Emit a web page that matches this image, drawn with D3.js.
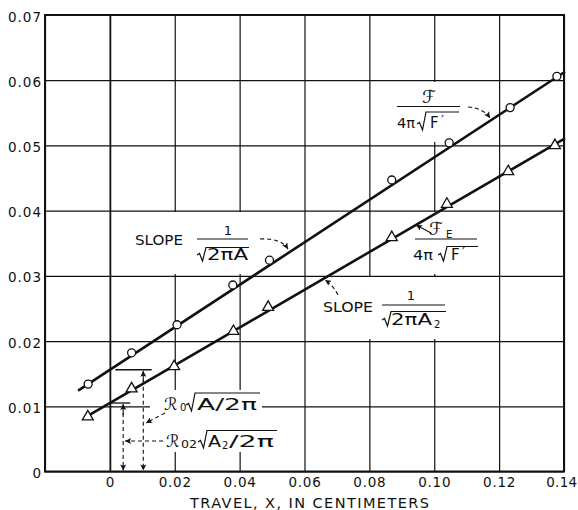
<!DOCTYPE html>
<html><head><meta charset="utf-8">
<script src="https://cdn.jsdelivr.net/npm/d3@7"></script>
<style>body{margin:0;background:#fff}svg{display:block}</style>
</head><body><svg id="c" width="578" height="510"></svg>
<script>
// ---------- data ----------
const xTicks = [-0.02, 0, 0.02, 0.04, 0.06, 0.08, 0.10, 0.12, 0.14];
const xTickLabels = ["", "0", "0.02", "0.04", "0.06", "0.08", "0.10", "0.12", "0.14"];
const yTicks = [0, 0.01, 0.02, 0.03, 0.04, 0.05, 0.06, 0.07];
const yTickLabels = ["0", "0.01", "0.02", "0.03", "0.04", "0.05", "0.06", "0.07"];
const circleX = [-0.0067, 0.0067, 0.0207, 0.0379, 0.0492, 0.0869, 0.1046, 0.1234, 0.1378];
const circleY = [0.0134, 0.0182, 0.0225, 0.0286, 0.0324, 0.0447, 0.0504, 0.0558, 0.0606];
const triangleX = [-0.0068, 0.0067, 0.0198, 0.0381, 0.0488, 0.0869, 0.1039, 0.1228, 0.1372];
const triangleY = [0.0084, 0.0127, 0.0161, 0.0215, 0.0252, 0.0359, 0.0410, 0.0460, 0.0500];
const fitFX = [-0.0098, 0.1403];
const fitFY = [0.0124, 0.0613];
const fitEX = [-0.0076, 0.1403];
const fitEY = [0.0083, 0.0511];
const interceptX = [0.0041, 0.0103];
const interceptY = [0.0105, 0.0156];
const xTitle = "TRAVEL, X, IN CENTIMETERS";

// ---------- setup ----------
const svg = d3.select("#c");
const FONT = "'DejaVu Sans', sans-serif";
const INK = "#111";
const x = d3.scaleLinear().domain([-0.02, 0.14]).range([45, 564]);
const y = d3.scaleLinear().domain([0, 0.07]).range([471.5, 15]);
const W = x(0.14) - x(-0.02), H = y(0) - y(0.07);

const defs = svg.append("defs");
defs.append("marker").attr("id", "ah").attr("viewBox", "0 0 10 10")
  .attr("refX", 10).attr("refY", 5).attr("markerWidth", 8).attr("markerHeight", 6)
  .attr("markerUnits", "userSpaceOnUse").attr("orient", "auto-start-reverse")
  .append("path").attr("d", "M0,0 L10,5 L0,10 L2,5 z").attr("fill", INK);

// ---------- grid / axes ----------
const gx = svg.append("g").attr("transform", `translate(0,${y(0)})`)
  .call(d3.axisBottom(x).tickValues(xTicks).tickFormat((d, i) => xTickLabels[i]).tickSize(-H).tickPadding(6));
gx.select(".domain").remove();
gx.selectAll(".tick line").attr("stroke", INK).attr("stroke-width", d => d === 0 ? 1.8 : 1.2);
gx.selectAll(".tick text").attr("font-family", FONT).attr("font-size", 13.5)
  .attr("letter-spacing", 0.8).attr("fill", INK)
  .filter(d => d === 0.14).attr("text-anchor", "end").attr("x", 13).attr("letter-spacing", 0.3);

const gy = svg.append("g").attr("transform", `translate(${x(-0.02)},0)`)
  .call(d3.axisLeft(y).tickValues(yTicks).tickFormat((d, i) => yTickLabels[i]).tickSize(-W).tickPadding(3));
gy.select(".domain").remove();
gy.selectAll(".tick line").attr("stroke", INK).attr("stroke-width", 1.2);
gy.selectAll(".tick text").attr("font-family", FONT).attr("font-size", 13.5)
  .attr("letter-spacing", 1).attr("dy", "0.45em").attr("fill", INK);

// white label backgrounds (grid is interrupted behind labels)
const boxes = [[112, 212, 148, 62], [385, 82, 92, 60], [395, 212, 95, 62], [310, 277, 156, 62],
               [150, 390, 112, 30], [157, 420, 125, 32]];
svg.append("g").selectAll("rect").data(boxes).join("rect")
  .attr("x", d => d[0]).attr("y", d => d[1]).attr("width", d => d[2]).attr("height", d => d[3])
  .attr("fill", "#fff");

// frame
svg.append("rect").attr("x", x(-0.02)).attr("y", y(0.07)).attr("width", W).attr("height", H)
  .attr("fill", "none").attr("stroke", INK).attr("stroke-width", 2);

// x title
svg.append("text").attr("x", 190).attr("y", 508).attr("font-family", FONT).attr("font-size", 14.5)
  .attr("textLength", 239).attr("lengthAdjust", "spacing").attr("fill", INK).text(xTitle);

// ---------- data ----------
const line = d3.line().x(d => x(d[0])).y(d => y(d[1]));
svg.append("path").datum(fitFX.map((v, i) => [v, fitFY[i]])).attr("d", line)
  .attr("stroke", INK).attr("stroke-width", 2.6).attr("fill", "none");
svg.append("path").datum(fitEX.map((v, i) => [v, fitEY[i]])).attr("d", line)
  .attr("stroke", INK).attr("stroke-width", 2.6).attr("fill", "none");

svg.append("g").selectAll("circle").data(circleX.map((v, i) => [v, circleY[i]])).join("circle")
  .attr("cx", d => x(d[0])).attr("cy", d => y(d[1])).attr("r", 4)
  .attr("fill", "#fff").attr("stroke", INK).attr("stroke-width", 1.3);
svg.append("g").selectAll("path").data(triangleX.map((v, i) => [v, triangleY[i]])).join("path")
  .attr("transform", d => `translate(${x(d[0])},${y(d[1])})`)
  .attr("d", d3.symbol(d3.symbolTriangle, 52))
  .attr("fill", "#fff").attr("stroke", INK).attr("stroke-width", 1.3);

// ---------- annotations ----------
const g = svg.append("g").attr("font-family", FONT).attr("fill", INK);
function t(str, px, py, size, len, anchor) {
  const s = g.append("text").attr("x", px).attr("y", py).attr("font-size", size).text(str);
  if (len) s.attr("textLength", len).attr("lengthAdjust", "spacingAndGlyphs");
  if (anchor) s.attr("text-anchor", anchor);
  return s;
}
function hline(x1, x2, py, w) {
  g.append("line").attr("x1", x1).attr("x2", x2).attr("y1", py).attr("y2", py)
    .attr("stroke", INK).attr("stroke-width", w || 1.2);
}
function radical(x0, base, top, xEnd) {
  g.append("path").attr("d", `M${x0},${base - 6} L${x0 + 2.5},${base - 7.5} L${x0 + 5.5},${base} L${x0 + 9},${top} L${xEnd},${top}`)
    .attr("fill", "none").attr("stroke", INK).attr("stroke-width", 1.2);
}
function arrow(d, dashed) {
  const p = g.append("path").attr("d", d).attr("fill", "none").attr("stroke", INK)
    .attr("stroke-width", 1.1).attr("marker-end", "url(#ah)");
  if (dashed) p.attr("stroke-dasharray", "4,3");
  return p;
}

// SLOPE 1/sqrt(2 pi A)
t("SLOPE", 135, 245, 14, 48);
t("1", 228, 235, 13, null, "middle");
hline(197, 248, 239);
radical(197, 261, 247.5, 249);
t("2πA", 207, 260, 15, 41);
arrow("M260,239 Q281,238 288,249", true);

// F / (4 pi sqrt F')
t("ℱ", 429, 103, 18, null, "middle");
hline(397, 460, 106.5);
t("4π", 397, 128, 14, 18);
radical(417, 130, 112, 459);
t("F", 430, 128, 15);
t("′", 441, 124, 13);
arrow("M468,107 Q483,108 490,118", true);

// F_E / (4 pi sqrt F')
t("ℱ", 429, 235, 18);
t("E", 446, 238, 10);
hline(415, 477, 239);
t("4π", 413, 260, 14, 20);
radical(438, 261, 246.5, 478);
t("F", 451, 260, 15);
t("′", 462, 256, 13);
arrow("M431,233 L416,225", false);

// SLOPE 1/sqrt(2 pi A2)
t("SLOPE", 323, 312, 14, 50);
t("1", 411, 300, 13, null, "middle");
hline(382, 445, 305);
radical(382, 326, 311.5, 446);
t("2πA", 391, 325, 15, 41);
t("2", 434, 328, 10);
arrow("M338,295 Q333,285 325,280", true);

// intercept construction
interceptX.forEach((v, i) => {
  g.append("path").attr("d", `M${x(v)},${y(interceptY[i]) + 12} L${x(v)},${y(interceptY[i]) + 1}`)
    .attr("stroke", INK).attr("stroke-width", 1.1).attr("fill", "none").attr("marker-end", "url(#ah)");
  g.append("path").attr("d", `M${x(v)},${y(interceptY[i]) + 10} L${x(v)},${y(0) - 1}`)
    .attr("stroke", INK).attr("stroke-width", 1.1).attr("stroke-dasharray", "4,3")
    .attr("fill", "none").attr("marker-end", "url(#ah)");
});
hline(x(0.0017), x(0.0129), y(interceptY[1]), 1.3);
hline(x(0), x(0.0063), y(interceptY[0]), 1.3);

// R0 sqrt(A/2pi)
t("ℛ", 164, 410, 17);
t("0", 180, 411, 10);
radical(186, 411, 393, 260);
t("A/2π", 197, 410, 15, 60);
arrow("M165,413 L146,423", true);

// R02 sqrt(A2/2pi)
t("ℛ", 166, 447, 17);
t("02", 181, 448, 10, 16);
radical(198, 448, 430.5, 277);
t("A", 208, 447, 15, 13);
t("2", 222, 449, 10);
t("/2π", 229, 447, 15, 45);
arrow("M163,441 L125,441", true);
</script></body></html>
